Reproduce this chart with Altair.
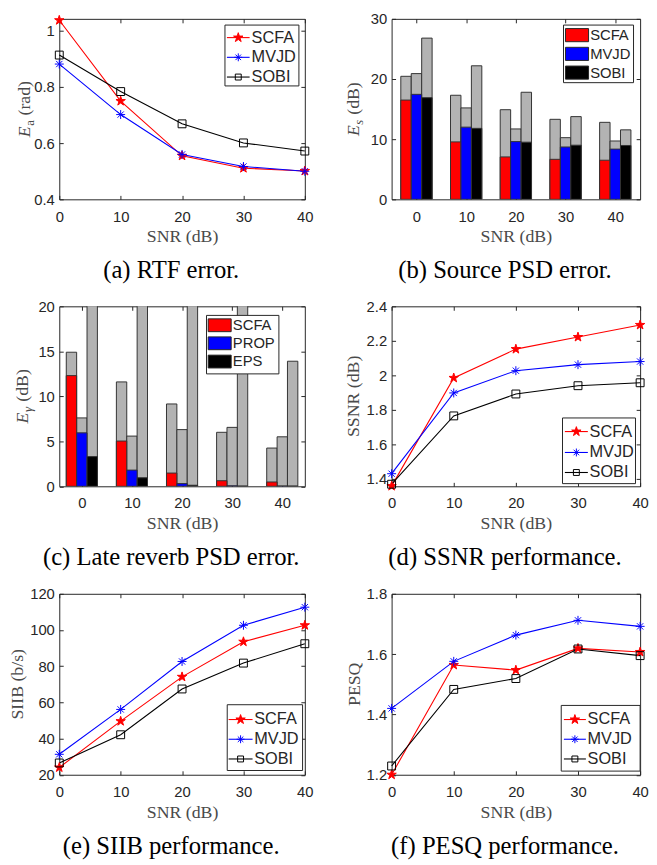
import altair as alt
import pandas as pd

# ---------------- data ----------------
SNR = [0, 10, 20, 30, 40]
SNR_LABELS = ["0", "10", "20", "30", "40"]
GROUP_POS = [1, 2, 3, 4, 5]          # category positions of the bar groups
LINE_METHODS = ["SCFA", "MVJD", "SOBI"]
BAR_METHODS_B = ["SCFA", "MVJD", "SOBI"]
BAR_METHODS_C = ["SCFA", "PROP", "EPS"]

# (a) RTF error
rtf_scfa = [1.038, 0.75, 0.555, 0.511, 0.501]
rtf_mvjd = [0.882, 0.702, 0.56, 0.517, 0.50]
rtf_sobi = [0.914, 0.784, 0.669, 0.601, 0.572]

# (b) source PSD error (colored part / total gray bar)
psd_low_scfa = [16.5, 9.55, 7.05, 6.65, 6.5]
psd_high_scfa = [20.45, 17.3, 14.9, 13.3, 12.8]
psd_low_mvjd = [17.45, 12.0, 9.6, 8.7, 8.35]
psd_high_mvjd = [20.9, 15.2, 11.7, 10.25, 9.7]
psd_low_sobi = [16.9, 11.8, 9.5, 9.0, 8.95]
psd_high_sobi = [26.8, 22.2, 17.8, 13.75, 11.55]

# (c) late reverb PSD error
late_low_scfa = [12.3, 5.03, 1.47, 0.62, 0.48]
late_high_scfa = [14.9, 11.6, 9.15, 6.0, 4.25]
late_low_prop = [5.94, 1.8, 0.3, 0.05, 0.03]
late_high_prop = [7.6, 5.58, 6.3, 6.55, 5.5]
late_low_eps = [3.3, 0.95, 0.12, 0.02, 0.02]
late_high_eps = [25.0, 25.0, 25.0, 25.0, 13.9]

# (d) SSNR
ssnr_scfa = [1.358, 1.985, 2.152, 2.222, 2.292]
ssnr_mvjd = [1.43, 1.898, 2.027, 2.062, 2.08]
ssnr_sobi = [1.369, 1.765, 1.892, 1.94, 1.957]

# (e) SIIB
siib_scfa = [24.0, 49.6, 74.1, 93.5, 102.6]
siib_mvjd = [31.3, 56.1, 82.6, 102.6, 112.6]
siib_sobi = [26.5, 42.1, 67.4, 81.7, 92.4]

# (f) PESQ
pesq_scfa = [1.2, 1.564, 1.547, 1.619, 1.607]
pesq_mvjd = [1.42, 1.576, 1.663, 1.712, 1.692]
pesq_sobi = [1.229, 1.483, 1.519, 1.617, 1.595]

# ---------------- style ----------------
INK = "#262626"
TITLE_INK = "#4a4a4a"
SANS = "Liberation Sans"
SERIF = "Liberation Serif"
SERIES_COLORS = ["#ff0000", "#0000ff", "#000000"]
STAR = ("M0,-1L0.2245,-0.309L0.951,-0.309L0.363,0.118L0.588,0.809L0,0.382"
        "L-0.588,0.809L-0.363,0.118L-0.951,-0.309L-0.2245,-0.309Z")
AST = "M-1,0L1,0M0,-1L0,1M-0.7,-0.7L0.7,0.7M-0.7,0.7L0.7,-0.7"
MARK_SHAPES = [STAR, AST, "square"]
MARK_FILLS = ["#ff0000", "transparent", "transparent"]
MARK_SIZES = [100, 64, 36]
GRAY = "#b3b3b3"
EDGE = "#333333"
ONE = pd.DataFrame({"k": [0]})


def txt(x, y, s, size, font=SANS, style="normal", angle=0, align="left",
        baseline="middle", color=INK):
    return alt.Chart(ONE).mark_text(
        font=font, fontSize=size, fontStyle=style, angle=angle, align=align,
        baseline=baseline, color=color
    ).encode(x=alt.value(x), y=alt.value(y), text=alt.value(s))


def ytitle(bx, H, parts):
    """parts: (text, size, style, shift, advance) drawn bottom-to-top."""
    total = sum(p[4] for p in parts)
    y = H / 2 + total / 2
    out = []
    for text, size, style, shift, w in parts:
        out.append(txt(bx + shift, y, text, size, font=SERIF, style=style,
                       angle=270, align="left", baseline="alphabetic",
                       color=TITLE_INK))
        y -= w
    return out


def ytitle_plain(bx, H, text):
    return [txt(bx, H / 2, text, 18, font=SERIF, angle=270, align="center",
                baseline="alphabetic", color=TITLE_INK)]


def main_x_axis(values, label_expr=None):
    kw = dict(values=values, ticks=False, domain=False, grid=False,
              labelFont=SANS, labelFontSize=15, labelColor=INK,
              labelPadding=10, labelAngle=0, labelFlush=False,
              labelOverlap=False, title="SNR (dB)", titleFont=SERIF,
              titleFontSize=18, titleFontWeight="normal",
              titleColor=TITLE_INK, titlePadding=4)
    if label_expr is not None:
        kw["labelExpr"] = label_expr
    return alt.Axis(**kw)


def main_y_axis(values):
    return alt.Axis(values=values, format=".2~f", ticks=False, domain=False,
                    grid=False, labelFont=SANS, labelFontSize=15,
                    labelColor=INK, labelPadding=5, labelFlush=False,
                    labelOverlap=False, title=None)


def tick_axis(orient, offset, values):
    return alt.Axis(orient=orient, offset=offset, values=values, labels=False,
                    ticks=True, tickSize=4, tickColor=INK, tickWidth=1,
                    domain=False, grid=False, title=None)


def line_legend(box, rows_y, line_x, text_x, fs=16.5):
    x0, y0, x1, y1 = box
    layers = [alt.Chart(ONE).mark_rect(fill="white", stroke=INK, strokeWidth=1)
              .encode(x=alt.value(x0), x2=alt.value(x1), y=alt.value(y0),
                      y2=alt.value(y1))]
    for name, color, shape, fill, size, ry in zip(
            LINE_METHODS, SERIES_COLORS, MARK_SHAPES, MARK_FILLS, MARK_SIZES,
            rows_y):
        layers.append(alt.Chart(ONE).mark_rule(color=color, strokeWidth=1.1)
                      .encode(x=alt.value(line_x[0]), x2=alt.value(line_x[1]),
                              y=alt.value(ry)))
        layers.append(alt.Chart(ONE).mark_point(
            shape=shape, size=size, stroke=color, fill=fill, strokeWidth=1,
            opacity=1).encode(x=alt.value((line_x[0] + line_x[1]) / 2),
                              y=alt.value(ry)))
        layers.append(txt(text_x, ry, name, fs))
    return layers


def bar_legend(box, rows_y, sw_x, sw_h, text_x, names, fs=15):
    x0, y0, x1, y1 = box
    layers = [alt.Chart(ONE).mark_rect(fill="white", stroke=INK, strokeWidth=1)
              .encode(x=alt.value(x0), x2=alt.value(x1), y=alt.value(y0),
                      y2=alt.value(y1))]
    for name, color, ry in zip(names, SERIES_COLORS, rows_y):
        layers.append(alt.Chart(ONE).mark_rect(fill=color, stroke=INK,
                                               strokeWidth=1)
                      .encode(x=alt.value(sw_x[0]), x2=alt.value(sw_x[1]),
                              y=alt.value(ry - sw_h / 2),
                              y2=alt.value(ry + sw_h / 2)))
        layers.append(txt(text_x, ry, name, fs))
    return layers


def caption(W, H, text):
    return txt(W / 2 - 11, H + 72, text, 25, font=SERIF, align="center",
               baseline="middle", color="#000000")


def line_panel(series, ydomain, yticks, W, H, title_layers, legend_layers,
               cap):
    rows = []
    for m, vals in zip(LINE_METHODS, series):
        for s, v in zip(SNR, vals):
            rows.append({"snr": s, "value": v, "method": m})
    df = pd.DataFrame(rows)
    xs = alt.Scale(domain=[0, 40], nice=False, zero=False)
    ys = alt.Scale(domain=ydomain, nice=False, zero=False)
    color = alt.Color("method:N", scale=alt.Scale(domain=LINE_METHODS,
                                                   range=SERIES_COLORS),
                      legend=None)
    lines = alt.Chart(df).mark_line(strokeWidth=1.1).encode(
        x=alt.X("snr:Q", scale=xs, axis=main_x_axis(SNR)),
        y=alt.Y("value:Q", scale=ys, axis=main_y_axis(yticks)),
        color=color,
    )
    points = alt.Chart(df).mark_point(opacity=1, strokeWidth=1).encode(
        x=alt.X("snr:Q", scale=xs, axis=None),
        y=alt.Y("value:Q", scale=ys, axis=None),
        color=color,
        shape=alt.Shape("method:N", scale=alt.Scale(domain=LINE_METHODS,
                                                     range=MARK_SHAPES),
                        legend=None),
        fill=alt.Fill("method:N", scale=alt.Scale(domain=LINE_METHODS,
                                                   range=MARK_FILLS),
                      legend=None),
        size=alt.Size("method:N", scale=alt.Scale(domain=LINE_METHODS,
                                                   range=MARK_SIZES),
                      legend=None),
    )
    t1 = alt.Chart(df).mark_point(opacity=0).encode(
        x=alt.X("snr:Q", scale=xs, axis=tick_axis("top", -H, SNR)),
        y=alt.Y("value:Q", scale=ys, axis=tick_axis("right", -W, yticks)),
    )
    t2 = alt.Chart(df).mark_point(opacity=0).encode(
        x=alt.X("snr:Q", scale=xs, axis=tick_axis("bottom", -H, SNR)),
        y=alt.Y("value:Q", scale=ys, axis=tick_axis("left", -W, yticks)),
    )
    return alt.layer(lines, points, t1, t2, *legend_layers, *title_layers,
                     caption(W, H, cap)).resolve_axis(
        x="independent", y="independent").properties(width=W, height=H)


def bar_panel(names, lows, highs, xdomain, slot, ydomain, yticks, W, H,
              title_layers, legend_layers, cap):
    # grouped bars: each group centred on its category position,
    # the three bars side by side, each one `slot` wide
    rows = []
    for k, (m, lo_list, hi_list) in enumerate(zip(names, lows, highs)):
        for g, lo, hi in zip(GROUP_POS, lo_list, hi_list):
            centre = g + (k - 1) * slot
            rows.append({"group": g, "method": m, "low": lo, "high": hi,
                         "x0": centre - slot / 2, "x1": centre + slot / 2})
    df = pd.DataFrame(rows)
    label_expr = "[" + ",".join("'%s'" % s for s in SNR_LABELS) + \
        "][datum.value - 1]"
    xs = alt.Scale(domain=xdomain, nice=False, zero=False)
    ys = alt.Scale(domain=ydomain, nice=False, zero=True)
    gray = alt.Chart(df).mark_bar(fill=GRAY, stroke=EDGE, strokeWidth=1,
                                  clip=True).encode(
        x=alt.X("x0:Q", scale=xs, axis=main_x_axis(GROUP_POS, label_expr)),
        x2="x1:Q",
        y=alt.Y("high:Q", scale=ys, axis=main_y_axis(yticks), stack=None),
        y2=alt.datum(0),
    )
    colored = alt.Chart(df).mark_bar(stroke=EDGE, strokeWidth=1,
                                     clip=True).encode(
        x=alt.X("x0:Q", scale=xs, axis=None),
        x2="x1:Q",
        y=alt.Y("low:Q", scale=ys, axis=None, stack=None),
        y2=alt.datum(0),
        fill=alt.Fill("method:N", scale=alt.Scale(domain=names,
                                                   range=SERIES_COLORS),
                      legend=None),
    )
    t1 = alt.Chart(df).mark_point(opacity=0).encode(
        x=alt.X("group:Q", scale=xs, axis=tick_axis("top", -H, GROUP_POS)),
        y=alt.Y("high:Q", scale=ys, axis=tick_axis("right", -W, yticks)),
    )
    t2 = alt.Chart(df).mark_point(opacity=0).encode(
        x=alt.X("group:Q", scale=xs, axis=tick_axis("bottom", -H, GROUP_POS)),
        y=alt.Y("high:Q", scale=ys, axis=tick_axis("left", -W, yticks)),
    )
    return alt.layer(t1, t2, gray, colored, *legend_layers, *title_layers,
                     caption(W, H, cap)).resolve_axis(
        x="independent", y="independent").properties(width=W, height=H)


# ---------------- panels ----------------
H1, H2, H3 = 183, 182.5, 183.5
WL = 249   # left column plot width
WR = 252   # right column plot width
GAP = 4.5  # gap between E_x and the unit in y titles

pa = line_panel(
    [rtf_scfa, rtf_mvjd, rtf_sobi], [0.4, 1.043], [0.4, 0.6, 0.8, 1.0], WL, H1,
    ytitle(-30, H1, [("E", 18, "italic", 0, 11.5),
                     ("a", 13, "normal", 4, 6 + GAP),
                     ("(rad)", 18, "normal", 0, 35)]),
    line_legend((168, 6.3, 243, 68), [19, 39, 59], (170, 193), 195),
    "(a) RTF error.")

pb = bar_panel(
    BAR_METHODS_B,
    [psd_low_scfa, psd_low_mvjd, psd_low_sobi],
    [psd_high_scfa, psd_high_mvjd, psd_high_sobi],
    [0.5, 5.5], 0.21, [0, 30], [0, 10, 20, 30], WR, H1,
    ytitle(-33, H1, [("E", 18, "italic", 0, 11.5),
                     ("s", 13, "italic", 4, 5.5 + GAP),
                     ("(dB)", 18, "normal", 0, 33)]),
    bar_legend((174.3, 6.3, 245.3, 64.7), [16.5, 35.5, 54.5], (176.3, 199.7),
               13.3, 201.3, BAR_METHODS_B),
    "(b) Source PSD error.")

pc = bar_panel(
    BAR_METHODS_C,
    [late_low_scfa, late_low_prop, late_low_eps],
    [late_high_scfa, late_high_prop, late_high_eps],
    [0.55, 5.45], 0.207, [0, 20], [0, 5, 10, 15, 20], WL, H2,
    ytitle(-32, H2, [("E", 18, "italic", 0, 11.5),
                     ("γ", 13, "italic", 4, 6 + GAP),
                     ("(dB)", 18, "normal", 0, 33)]),
    bar_legend((149.3, 9.2, 222.7, 68.5), [19.2, 37.5, 56], (151, 174.3), 13,
               176, BAR_METHODS_C),
    "(c) Late reverb PSD error.")

pdd = line_panel(
    [ssnr_scfa, ssnr_mvjd, ssnr_sobi], [1.357, 2.4],
    [1.4, 1.6, 1.8, 2.0, 2.2, 2.4], WR, H2,
    ytitle_plain(-33, H2, "SSNR (dB)"),
    line_legend((173.3, 113.2, 247.3, 179.8), [127, 148.2, 168.5],
                (175.7, 199), 200.7),
    "(d) SSNR performance.")

pe = line_panel(
    [siib_scfa, siib_mvjd, siib_sobi], [20, 120], [20, 40, 60, 80, 100, 120],
    WL, H3,
    ytitle_plain(-37, H3, "SIIB (b/s)"),
    line_legend((170.3, 112.5, 246.7, 179.2), [127.5, 147.5, 167.5],
                (171.7, 196), 197.7),
    "(e) SIIB performance.")

pf = line_panel(
    [pesq_scfa, pesq_mvjd, pesq_sobi], [1.2, 1.8], [1.2, 1.4, 1.6, 1.8],
    WR, H3,
    ytitle_plain(-32.5, H3, "PESQ"),
    line_legend((172, 113.2, 252, 179.8), [127.5, 147.5, 167.5],
                (174.7, 197), 198.7),
    "(f) PESQ performance.")

chart = alt.concat(
    pa, pb, pc, pdd, pe, pf, columns=2,
    spacing={"row": 108.5, "column": 88}, bounds="flush",
).resolve_scale(
    color="independent", fill="independent", shape="independent",
    size="independent",
).properties(
    padding={"left": 0, "top": -3, "right": 0, "bottom": 0},
    background="white",
).configure_view(stroke=INK, strokeWidth=1)

chart.save("out.html", embed_options={"renderer": "svg", "actions": False})
